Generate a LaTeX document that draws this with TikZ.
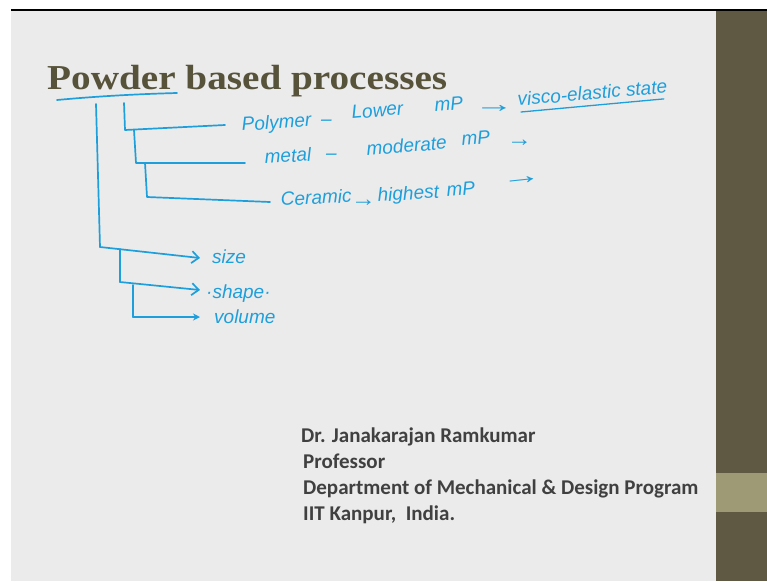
\documentclass[tikz,border=0pt]{standalone}
\usepackage{fontspec}
\setmainfont{Liberation Serif}
\newfontfamily\creditfont{Carlito}
\newfontfamily\handfont{Liberation Sans}
\usetikzlibrary{arrows.meta}
\definecolor{slidebg}{HTML}{EBEBEB}
\definecolor{barolive}{HTML}{5F5944}
\definecolor{bandolive}{HTML}{9E9A75}
\definecolor{titleink}{HTML}{57533B}
\definecolor{pen}{HTML}{1E9FDB}
\definecolor{credit}{HTML}{404040}
\newcommand{\longpen}{\scalebox{2.1}[1.3]{→}}
\newcommand{\shortpen}{\scalebox{1.3}[1.2]{→}}

\begin{document}
\begin{tikzpicture}[x=1pt,y=-1pt,
  ink/.style={draw=pen, line width=1.7pt, line cap=round, line join=round},
  note/.style={text=pen, font=\handfont\itshape\fontsize{19}{19}\selectfont, inner sep=0pt, anchor=base west},
  cred/.style={text=credit, font=\creditfont\bfseries\fontsize{21}{21}\selectfont, inner sep=0pt, anchor=base west},
  barb/.style={-{Straight Barb[length=7pt,width=12pt,line width=1.7pt]}},
  solidtip/.style={-{Stealth[length=7pt,width=7pt]}}]
\useasboundingbox (0,0) rectangle (767,581);

% slide background, side bar and top rule
\fill[white] (0,0) rectangle (767,581);
\fill[slidebg] (11,11) rectangle (716,581);
\fill[barolive] (716,11) rectangle (767,581);
\fill[bandolive] (716,473) rectangle (767,512);
\fill[black] (11,9) rectangle (767,11);

% title
\node[anchor=base west, inner sep=0pt, text=titleink,
      font=\bfseries\fontsize{35}{35}\selectfont] (title) at (47,89)
      {\scalebox{1.12}[1]{Powder based processes}};

% pen annotations: tree coordinates
\coordinate (ulA) at (57,100);
\coordinate (ulB) at (177,93);
\coordinate (v1top) at (96,104);
\coordinate (v1bot) at (100,247);
\coordinate (v2top) at (124,103);
\coordinate (polyL) at (125,130);
\coordinate (polyR) at (225,125);
\coordinate (metalT) at (134,130);
\coordinate (metalL) at (136,163);
\coordinate (metalR) at (245,163);
\coordinate (ceraT) at (145,163);
\coordinate (ceraL) at (147,197);
\coordinate (ceraR) at (270,202);
\coordinate (sizeTip) at (200,258);
\coordinate (shapeT) at (120,249);
\coordinate (shapeL) at (120,282);
\coordinate (shapeTip) at (200,290);
\coordinate (volT) at (133,285);
\coordinate (volL) at (133,317);
\coordinate (volTip) at (200,317);

% underline of the first word
\draw[ink] (ulA) .. controls (100,96) and (140,94) .. (ulB);

% material branches
\draw[ink] (v2top) -- (polyL) -- (polyR);
\draw[ink] (metalT) -- (metalL) -- (metalR);
\draw[ink] (ceraT) -- (ceraL) -- (ceraR);

% powder property branches
\draw[ink] (v1top) -- (v1bot);
\draw[ink, barb] (v1bot) -- (sizeTip);
\draw[ink] (shapeT) -- (shapeL);
\draw[ink, barb] (shapeL) -- (shapeTip);
\draw[ink] (volT) -- (volL);
\draw[ink, solidtip] (volL) -- (volTip);

% polymer note
\node[note, rotate=4] (poly) at (242,131) {Polymer};
\node[note] (polydash) at (321,125) {–};
\node[note, rotate=5] (lower) at (352,119) {Lower};
\node[note, rotate=5] (polymp) at (435,112) {mP};
\node[note] (polyarrow) at (474,112) {\longpen};
\node[note, rotate=5] (visco) at (518,106) {visco-elastic state};
\draw[ink, line width=1.3pt] ([shift={(3pt,-6pt)}]visco.base west) -- ([shift={(-4pt,-6pt)}]visco.base east);

% metal note
\node[note, rotate=4] (metal) at (265,164) {metal};
\node[note] (metaldash) at (326,159) {–};
\node[note, rotate=5] (moderate) at (367,156) {moderate};
\node[note, rotate=5] (metalmp) at (462,146) {mP};
\node[note] (metalarrow) at (507,146) {\shortpen};

% ceramic note
\node[note, rotate=3] (cera) at (281,206) {Ceramic};
\node[note] (ceraarrow) at (351,206) {\shortpen};
\node[note, rotate=4] (highest) at (378,202) {highest};
\node[note, rotate=5] (ceramp) at (447,197) {mP};
\node[note, rotate=6] (ceraarrow2) at (502,187) {\longpen};

% property notes
\node[note] (size) at (212,263) {size};
\node[note] (shape) at (206,298) {·shape·};
\node[note] (volume) at (214,323) {volume};

% credits
\node[cred] (name) at (301,442) {Dr. Janakarajan Ramkumar};
\node[cred] (rank) at (303,468) {Professor};
\node[cred] (dept) at (303,494) {Department of Mechanical \& Design Program};
\node[cred] (inst) at (303,520) {IIT Kanpur,\ \ India.};
\end{tikzpicture}
\end{document}
